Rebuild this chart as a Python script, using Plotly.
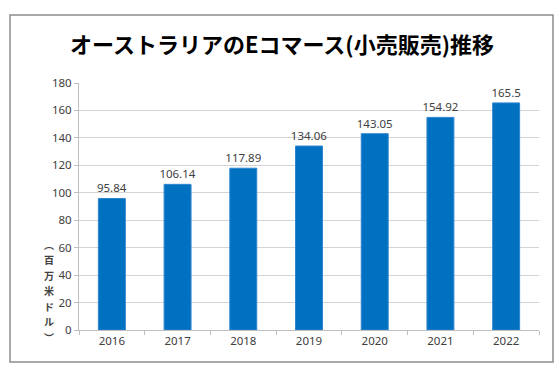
import plotly.graph_objects as go

years = ["2016", "2017", "2018", "2019", "2020", "2021", "2022"]
values = [95.84, 106.14, 117.89, 134.06, 143.05, 154.92, 165.5]
value_labels = ["95.84", "106.14", "117.89", "134.06", "143.05", "154.92", "165.5"]
y_ticks = [0, 20, 40, 60, 80, 100, 120, 140, 160, 180]
y_title_chars = ["︵", "百", "万", "米", "ド", "ル", "︶"]

W, H = 560, 373
L, R, T, B = 79, 21, 83, 43
pw, ph = W - L - R, H - T - B

fig = go.Figure(go.Bar(
    x=years, y=values, text=value_labels, textposition="outside",
    textfont=dict(size=11.5, color="#404040", family="Noto Sans"),
    constraintext="none",
    marker=dict(color="#0070C0", line=dict(color="#2E86D0", width=1)),
    cliponaxis=False,
))

def px_x(x):
    return (x - L) / pw

def px_y(y):
    return (H - B - y) / ph

annotations = []
for i, ch in enumerate(y_title_chars):
    annotations.append(dict(text="<b>" + ch + "</b>", xref="paper", yref="paper",
                            x=px_x(49), y=px_y(244 + i * 15.5),
                            xanchor="center", yanchor="middle", showarrow=False,
                            font=dict(size=10, color="#404040", family="Noto Sans CJK JP")))

fig.update_layout(
    width=W, height=H,
    margin=dict(l=L, r=R, t=T, b=B),
    paper_bgcolor="white", plot_bgcolor="white",
    bargap=0.59,
    showlegend=False,
    title=dict(text="<b>オーストラリアのEコマース(小売販売)推移</b>",
               x=px_x(282), xref="paper", xanchor="center",
               y=1 - 45 / H, yref="container", yanchor="middle",
               font=dict(size=22, color="#000000", family="Noto Sans CJK JP")),
    xaxis=dict(type="category", showline=True, linecolor="#BFBFBF", linewidth=1,
               ticks="outside", tickson="boundaries", ticklen=4, tickcolor="#BFBFBF",
               tickfont=dict(size=11.5, color="#404040", family="Noto Sans"),
               showgrid=False),
    yaxis=dict(range=[0, 180], tickvals=y_ticks, showline=True, linecolor="#BFBFBF",
               linewidth=1, ticks="outside", ticklen=4, tickcolor="#BFBFBF",
               gridcolor="#D4D4D4", gridwidth=1, zeroline=False,
               tickfont=dict(size=11.5, color="#404040", family="Noto Sans")),
    shapes=[dict(type="rect", xref="paper", yref="paper",
                 x0=px_x(10), x1=px_x(553), y0=px_y(362), y1=px_y(15),
                 line=dict(color="#8C8C8C", width=1.5), layer="below")],
    annotations=annotations,
)

fig.write_html("out.html", config={"displayModeBar": False},
               post_script="document.body.style.margin='0';")
